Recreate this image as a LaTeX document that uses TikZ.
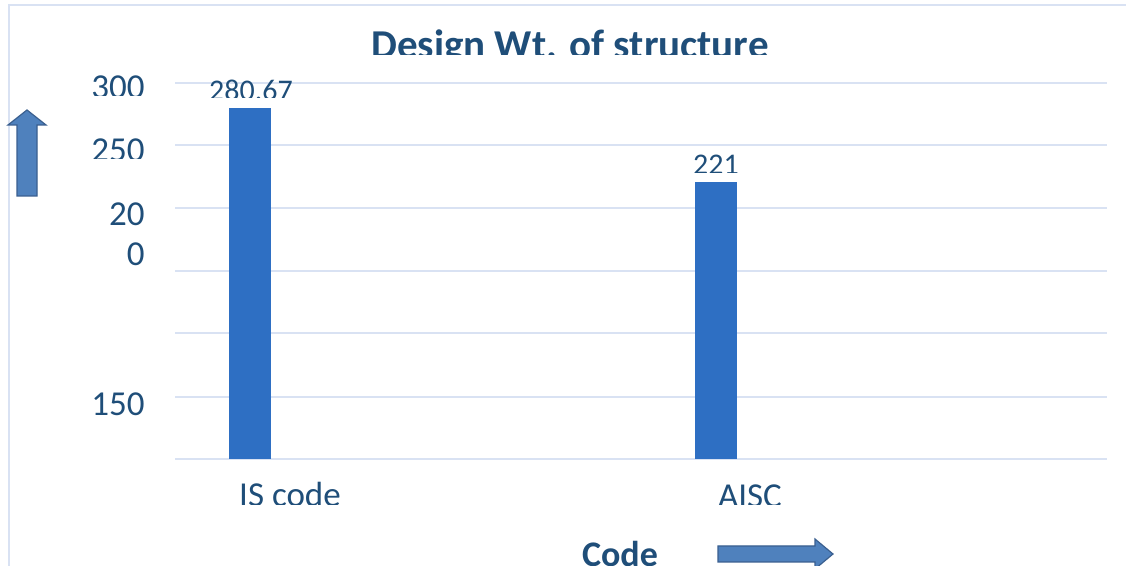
\documentclass[tikz,border=0pt]{standalone}
\usepackage{fontspec}
\setmainfont{Carlito}
\definecolor{txt}{HTML}{1F4E79}
\definecolor{bar}{HTML}{2E6FC3}
\definecolor{grid}{HTML}{D9E2F3}
\definecolor{arrfill}{HTML}{4F81BD}
\definecolor{arrline}{HTML}{3A5F8F}
\tikzset{
  gridline/.style={draw=grid, line width=1pt},
  barfill/.style={fill=bar, draw=none},
  blockarrow/.style={fill=arrfill, draw=arrline, line width=0.6pt, line join=miter},
  axlabel/.style={text=txt, font=\fontsize{17.5}{20}\selectfont, inner sep=0pt},
  datalabel/.style={text=txt, font=\fontsize{15}{18}\selectfont, inner sep=0pt, anchor=base},
  titlelabel/.style={text=txt, font=\fontsize{20.5}{24}\selectfont\bfseries, inner sep=0pt, anchor=base},
}
\begin{document}
\begin{tikzpicture}[x=0.5pt, y=-0.5pt]
\clip (0,0) rectangle (1126,566);
\fill[white] (0,0) rectangle (1126,566);
% outer frame
\draw[gridline] (8.5,570) -- (8.5,5) -- (1130,5);
% gridlines
\foreach \y in {83,145,208,271,333,397,459}
  \draw[gridline] (175,\y) -- (1107,\y);
% bars
\fill[barfill] (229,108) rectangle (271,459);
\fill[barfill] (695,182) rectangle (737,459);
% title (clipped at bottom as in reference)
\begin{scope}
\clip (0,0) rectangle (1126,55);
\node[titlelabel] (title) at (570,59) {Design Wt. of structure};
\end{scope}
% y tick labels
\begin{scope}
\clip (0,0) rectangle (1126,96);
\node[axlabel, anchor=base east] (t300) at (145,99) {300};
\end{scope}
\begin{scope}
\clip (0,0) rectangle (1126,159);
\node[axlabel, anchor=base east] (t250) at (145,162) {250};
\end{scope}
\node[axlabel, anchor=base east] (t20) at (145,226) {20};
\node[axlabel, anchor=base east] (t0) at (145,266) {0};
\node[axlabel, anchor=base east] (t150) at (145,416) {150};
% data labels
\begin{scope}
\clip (0,0) rectangle (1126,98);
\node[datalabel] (d1) at (251,101) {280.67};
\end{scope}
\begin{scope}
\clip (0,0) rectangle (1126,173);
\node[datalabel] (d2) at (716,175) {221};
\end{scope}
% category labels
\begin{scope}
\clip (0,0) rectangle (1126,505);
\node[axlabel, anchor=base] (c1) at (290,507) {IS code};
\node[axlabel, anchor=base] (c2) at (750,508) {AISC};
\end{scope}
% axis title
\node[text=txt, font=\fontsize{18}{20}\selectfont\bfseries, inner sep=0pt, anchor=base] (xt) at (620,567) {Code};
% block arrows
\draw[blockarrow] (17,196) -- (17,125) -- (8,125) -- (27,110) -- (46,125) -- (37,125) -- (37,196) -- cycle;
\draw[blockarrow] (718,546) -- (815,546) -- (815,539) -- (833,554) -- (815,569) -- (815,562) -- (718,562) -- cycle;
\end{tikzpicture}
\end{document}
